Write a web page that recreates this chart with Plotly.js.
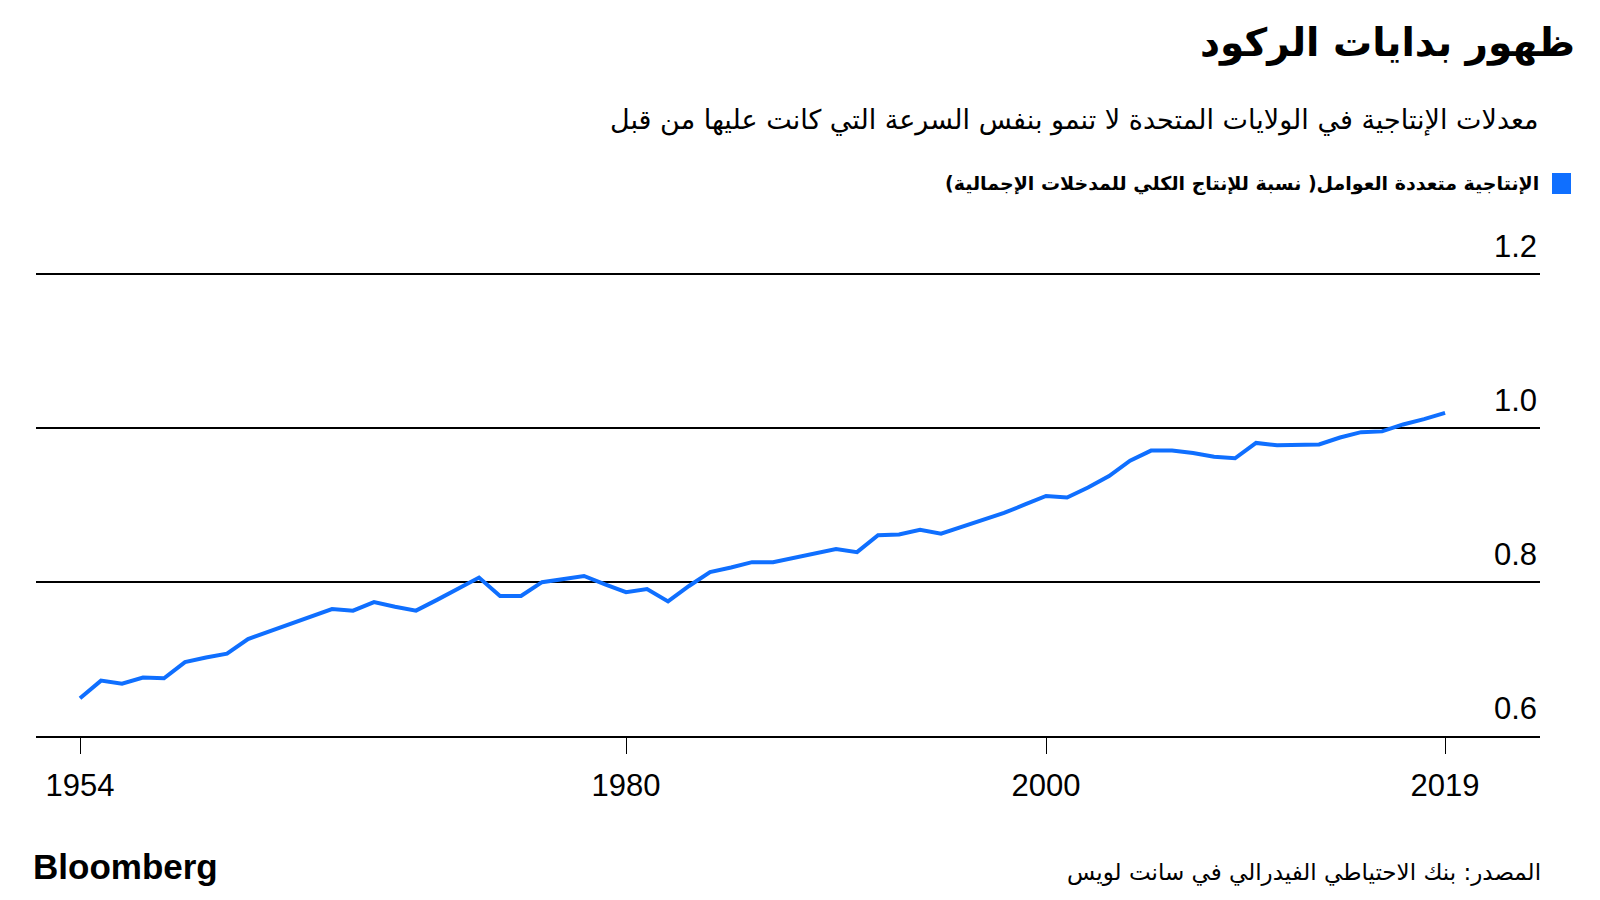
<!DOCTYPE html>
<html>
<head>
<meta charset="utf-8">
<script src="https://cdn.plot.ly/plotly-3.0.1.min.js"></script>
<style>
  html, body { margin: 0; padding: 0; background: #ffffff; }
  #chart { width: 1600px; height: 900px; }
</style>
</head>
<body>
<div id="chart"></div>
<script>
const years = [1954,1955,1956,1957,1958,1959,1960,1961,1962,1963,1964,1965,1966,1967,1968,1969,1970,
  1971,1972,1973,1974,1975,1976,1977,1978,1979,1980,1981,1982,1983,1984,1985,1986,1987,1988,1989,1990,
  1991,1992,1993,1994,1995,1996,1997,1998,1999,2000,2001,2002,2003,2004,2005,2006,2007,2008,2009,
  2010,2011,2012,2013,2014,2015,2016,2017,2018,2019];
const tfp = [0.649,0.672,0.668,0.676,0.675,0.696,0.702,0.707,0.726,0.736,0.746,0.755,0.765,0.763,0.774,0.768,0.763,
  0.777,0.792,0.806,0.782,0.782,0.800,0.804,0.808,0.797,0.787,0.791,0.775,0.795,0.813,0.819,0.826,0.826,0.832,0.837,0.843,
  0.839,0.861,0.862,0.868,0.863,0.872,0.881,0.890,0.901,0.912,0.910,0.923,0.938,0.958,0.971,0.971,0.968,0.963,0.961,
  0.981,0.978,0.979,0.979,0.988,0.995,0.996,1.005,1.012,1.020];
const xTickVals = [1954, 1980, 2000, 2019];
const yTickVals = [0.6, 0.8, 1.0, 1.2];
const yTickText = ['0.6', '0.8', '1.0', '1.2'];

const titleText = 'ظهور بدايات الركود';
const subtitleText = 'معدلات الإنتاجية في الولايات المتحدة لا تنمو بنفس السرعة التي كانت عليها من قبل';
const legendText = 'الإنتاجية متعددة العوامل( نسبة للإنتاج الكلي للمدخلات الإجمالية)';
const sourceText = 'المصدر: بنك الاحتياطي الفيدرالي في سانت لويس';
const brandText = 'Bloomberg';

const blue = '#0f6fff';
const arabicFont = 'DejaVu Sans, Noto Sans, sans-serif';
const numFont = 'Liberation Sans Narrow, Liberation Sans, Arial, sans-serif';

// plot area in pixels
const PL = 36, PR = 1540, PT = 228, PB = 736;
const px = v => (v - PL) / (PR - PL);
const py = v => (PB - v) / (PB - PT);

const trace = {
  x: years, y: tfp, type: 'scatter', mode: 'lines',
  line: { color: blue, width: 4 },
  hoverinfo: 'skip', showlegend: false
};

const layout = {
  width: 1600, height: 900,
  paper_bgcolor: '#ffffff', plot_bgcolor: '#ffffff',
  margin: { l: PL, r: 1600 - PR, t: PT, b: 900 - PB },
  showlegend: false,
  title: {
    text: '<b>' + titleText + '</b>',
    x: 1575 / 1600, xanchor: 'right', xref: 'container',
    y: 1 - 42 / 900, yanchor: 'middle', yref: 'container',
    font: { family: arabicFont, size: 39, color: '#000000' }
  },
  xaxis: {
    range: [1951.905, 2023.52],
    tickvals: xTickVals, ticktext: xTickVals.map(String),
    ticks: 'outside', ticklen: 16, tickwidth: 1, tickcolor: '#000000',
    ticklabelstandoff: 5,
    showgrid: false, zeroline: false,
    showline: true, linecolor: '#000000', linewidth: 2,
    tickfont: { family: numFont, size: 31, color: '#000000' },
    fixedrange: true
  },
  yaxis: {
    range: [0.6, 1.2604],
    tickvals: yTickVals, ticktext: yTickText,
    side: 'right', ticklabelposition: 'inside',
    ticklabeloverflow: 'allow',
    ticklabelshift: -28, ticks: '',
    showgrid: true, gridcolor: '#000000', gridwidth: 2,
    zeroline: false, showline: false,
    tickfont: { family: numFont, size: 31, color: '#000000' },
    fixedrange: true
  },
  annotations: [
    { xref: 'paper', yref: 'paper', x: px(1541), y: py(120),
      xanchor: 'right', yanchor: 'middle', showarrow: false,
      text: subtitleText, font: { family: arabicFont, size: 27, color: '#000000' } },
    { xref: 'paper', yref: 'paper', x: px(1541), y: py(184),
      xanchor: 'right', yanchor: 'middle', showarrow: false,
      text: '<b>' + legendText + '</b>', font: { family: arabicFont, size: 19, color: '#000000' } },
    { xref: 'paper', yref: 'paper', x: px(1543), y: py(872),
      xanchor: 'right', yanchor: 'middle', showarrow: false,
      text: sourceText, font: { family: arabicFont, size: 23, color: '#000000' } },
    { xref: 'paper', yref: 'paper', x: px(31), y: py(866),
      xanchor: 'left', yanchor: 'middle', showarrow: false,
      text: '<b>' + brandText + '</b>', font: { family: 'Liberation Sans, Arial, sans-serif', size: 35, color: '#000000' } }
  ],
  shapes: [
    { type: 'rect', xref: 'paper', yref: 'paper',
      x0: px(1552), x1: px(1571), y0: py(194), y1: py(173),
      fillcolor: blue, line: { width: 0 } }
  ]
};

Plotly.newPlot('chart', [trace], layout, { displayModeBar: false, staticPlot: true });
</script>
</body>
</html>
